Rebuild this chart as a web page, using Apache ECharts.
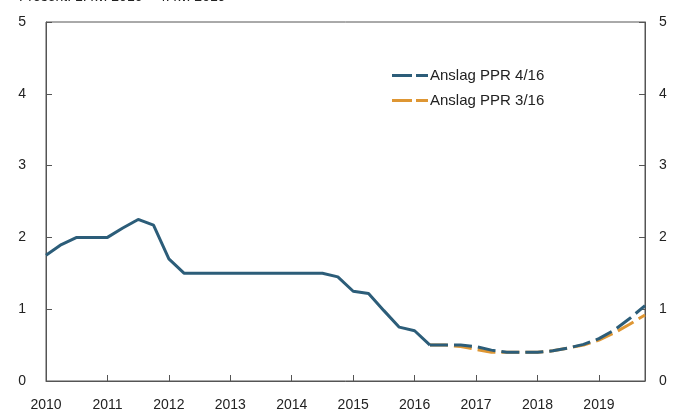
<!DOCTYPE html>
<html>
<head>
<meta charset="utf-8">
<script src="https://cdn.jsdelivr.net/npm/echarts@6/dist/echarts.min.js"></script>
<style>html,body{margin:0;padding:0;background:#fff}#c{width:677px;height:414px}</style>
</head>
<body>
<div id="c"></div>
<script>
// Quarterly categories 2010 K1 – 2019 K4
const years = [2010,2011,2012,2013,2014,2015,2016,2017,2018,2019];
const quarters = [];
years.forEach(y => { for (let q = 1; q <= 4; q++) quarters.push(y + ' K' + q); });

const history = [1.75,1.9,2.0,2.0,2.0,2.13,2.25,2.17,1.7,1.5,
  1.5,1.5,1.5,1.5,1.5,1.5,1.5,1.5,1.5,1.45,
  1.25,1.22,0.98,0.75,0.7,0.5,null,null,null,null,
  null,null,null,null,null,null,null,null,null,null];
const pprApr16 = [null,null,null,null,null,null,null,null,null,null,
  null,null,null,null,null,null,null,null,null,null,
  null,null,null,null,null,0.5,0.5,0.5,0.48,0.43,
  0.4,0.4,0.4,0.42,0.46,0.51,0.59,0.71,0.87,1.05];
const pprMar16 = [null,null,null,null,null,null,null,null,null,null,
  null,null,null,null,null,null,null,null,null,null,
  null,null,null,null,null,0.5,0.5,0.48,0.44,0.4,
  0.4,0.4,0.4,0.42,0.46,0.5,0.57,0.67,0.79,0.92];
const yTicks = [0,1,2,3,4,5];

const txt = '#222';
const axisCol = '#555';
const font = 'Liberation Sans, Arial, sans-serif';
const dashIcon = 'path://M0,0H20V3H0Z M24,0H36V3H24Z';
const chart = echarts.init(document.getElementById('c'));
const yAx = (pos) => ({
  type: 'value', position: pos, min: yTicks[0], max: yTicks[yTicks.length-1], interval: 1,
  axisLine: {show: true, lineStyle: {color: axisCol, width: 1}},
  axisTick: {show: true, inside: true, length: 6, lineStyle: {color: axisCol}},
  axisLabel: {color: txt, fontSize: 14, fontFamily: font, margin: pos === 'left' ? 20 : 14},
  splitLine: {show: false}
});
chart.setOption({
  animation: false,
  title: {text: 'Prosent. 1. kv. 2010 – 4. kv. 2019', left: 14, top: -15,
    textStyle: {fontSize: 14, fontWeight: 'normal', color: txt, fontFamily: font}},
  grid: {left: 46, right: 32, top: 22, bottom: 33, show: true, borderColor: axisCol, borderWidth: 1},
  legend: {
    orient: 'vertical', left: 387, top: 63, itemWidth: 36, itemHeight: 3, itemGap: 10,
    data: [{name: 'Anslag PPR 4/16', icon: dashIcon}, {name: 'Anslag PPR 3/16', icon: dashIcon}],
    textStyle: {fontSize: 15, color: txt, fontFamily: font, padding: [0,0,0,-3]}
  },
  xAxis: {
    type: 'category', data: quarters, boundaryGap: false,
    axisLine: {show: true, lineStyle: {color: axisCol}},
    axisTick: {show: true, inside: true, length: 6, interval: (i) => i % 4 === 0, lineStyle: {color: axisCol}},
    axisLabel: {color: txt, fontSize: 14, fontFamily: font, margin: 17,
      interval: (i) => i % 4 === 0, formatter: (v) => v.slice(0,4)}
  },
  yAxis: [yAx('left'), yAx('right')],
  series: [
    {name: 'Historikk', type: 'line', data: history, symbol: 'none', yAxisIndex: 0,
     lineStyle: {color: '#2c5d79', width: 3}, itemStyle: {color: '#2c5d79'}},
    {name: 'Anslag PPR 3/16', type: 'line', data: pprMar16, symbol: 'none', yAxisIndex: 0,
     lineStyle: {color: '#de9633', width: 3, type: [18,6]}, itemStyle: {color: '#de9633'}},
    {name: 'Anslag PPR 4/16', type: 'line', data: pprApr16, symbol: 'none', yAxisIndex: 0,
     lineStyle: {color: '#2c5d79', width: 3, type: [18,6]}, itemStyle: {color: '#2c5d79'}}
  ]
});
</script>
</body>
</html>
